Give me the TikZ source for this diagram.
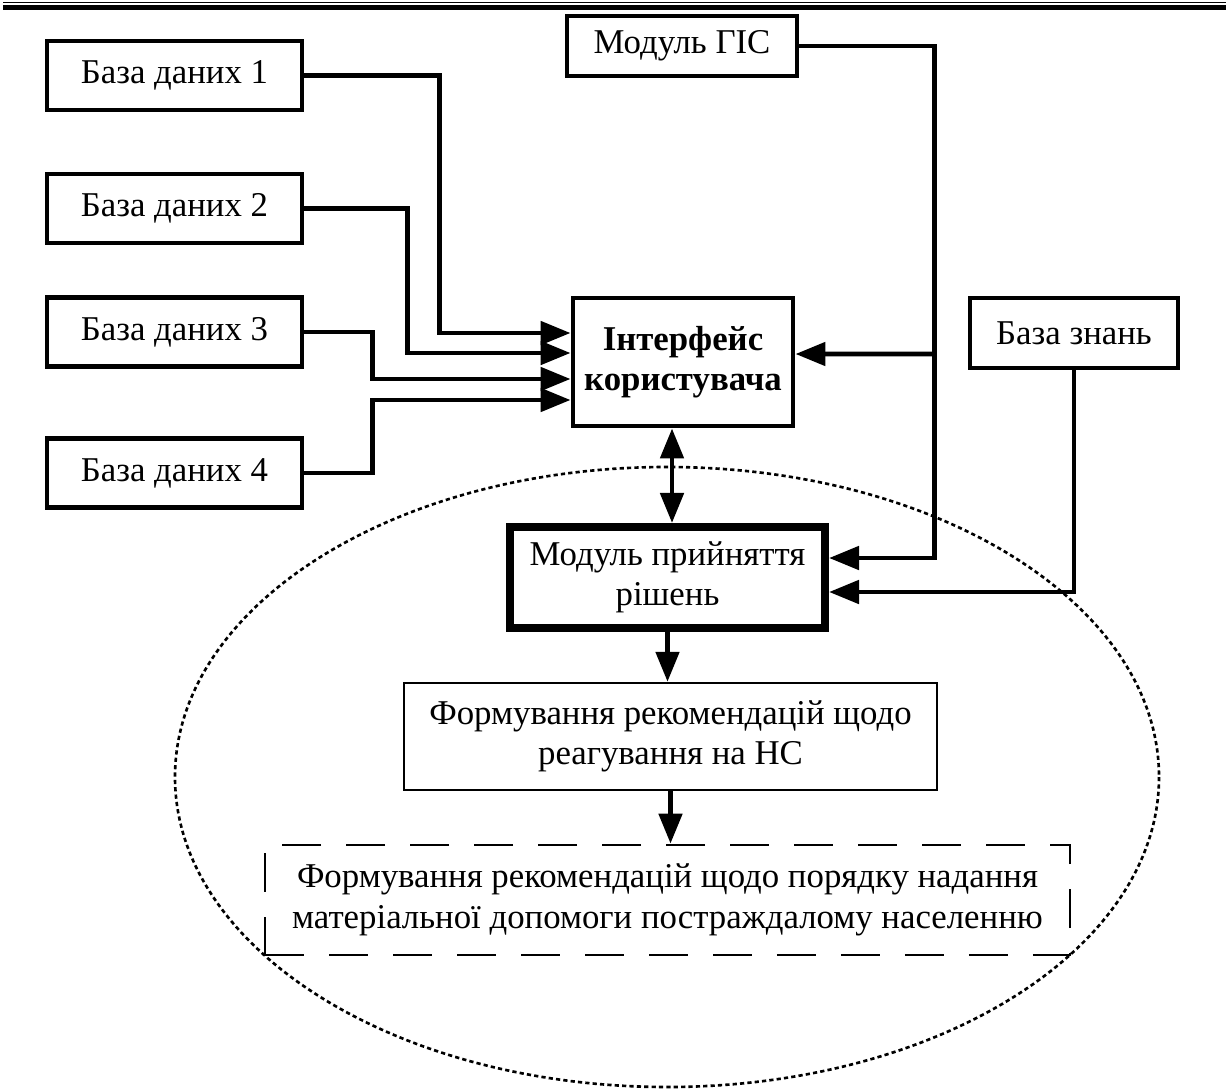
\documentclass[tikz,border=0pt]{standalone}
\usepackage{fontspec}
\setmainfont{Liberation Serif}
\usetikzlibrary{positioning,arrows.meta}
\tikzset{
    box/.style={draw, line width=2.8pt, fill=white, align=center,
        inner sep=0pt, font=\fontsize{19.8}{23}\selectfont},
    dbbox/.style={box, minimum width=5.1cm, minimum height=1.38cm},
    mainbox/.style={box, line width=4.6pt},
    thinbox/.style={box, line width=1.4pt},
    dashbox/.style={box, line width=1.6pt, dash pattern=on 0.78cm off 0.5cm},
    arrow/.style={-{Triangle[length=0.6cm, width=0.46cm]}, line width=2.8pt},
    dblarrow/.style={{Triangle[length=0.6cm, width=0.46cm]}-{Triangle[length=0.6cm, width=0.46cm]}, line width=2.8pt},
}
\begin{document}
\begin{tikzpicture}[x=0.02cm, y=-0.02cm]

\useasboundingbox (0,0) rectangle (1226,1088);

% ===============================
%        header rule and area
% ===============================

\draw[line width=0.8pt] (3,2.5) -- (1226,2.5);
\draw[line width=2.4pt] (3,7.5) -- (1226,7.5);

\draw[line width=1.5pt, dash pattern=on 2.4pt off 1.8pt]
    (667,777) ellipse [x radius=492, y radius=310];

% ===============================
%          data sources
% ===============================

\node[dbbox] (db1) at (174.5,75.5) {База даних 1};
\node[dbbox] (db2) at (174.5,208.5) {База даних 2};
\node[dbbox] (db3) at (174.5,332) {База даних 3};
\node[dbbox] (db4) at (174.5,473) {База даних 4};

\node[box, minimum width=4.6cm, minimum height=1.2cm] (gis) at (682,46)
    {Модуль ГІС};
\node[box, minimum width=4.16cm, minimum height=1.4cm] (kb) at (1074,333)
    {База знань};

% ===============================
%            main chain
% ===============================

\node[box, minimum width=4.4cm, minimum height=2.56cm] (ui) at (683,362)
    {\textbf{Інтерфейс}\\\textbf{користувача}};

\node[mainbox, minimum width=6.3cm, minimum height=2.02cm] (dm) at (667.5,577.5)
    {Модуль прийняття\\рішень};

\node[thinbox, minimum width=10.66cm, minimum height=2.14cm] (rec) at (670.5,736.5)
    {Формування рекомендацій щодо\\реагування на НС};

\node[dashbox, minimum width=16.1cm, minimum height=2.2cm] (aid) at (667.5,900)
    {Формування рекомендацій щодо порядку надання\\матеріальної допомоги постраждалому населенню};

% ===============================
%              arrows
% ===============================

\draw[arrow] (db1.east) -- ++(135,0) |- ([yshift=0.58cm]ui.west);
\draw[arrow] (db2.east) -- ++(103,0) |- ([yshift=0.18cm]ui.west);
\draw[arrow] (db3.east) -- ++(68,0) |- ([yshift=-0.34cm]ui.west);
\draw[arrow] (db4.east) -- ++(68,0) |- ([yshift=-0.76cm]ui.west);

\draw[arrow] (gis.east) -- ++(135,0) coordinate (gisj) |- ([yshift=0.39cm]dm.east);
\draw[arrow] (gisj |- ui.east) ++(0,-8) -- ([yshift=0.16cm]ui.east);

\draw[arrow] (kb.south) |- ([yshift=-0.29cm]dm.east);

\draw[dblarrow] ([xshift=-0.22cm]ui.south) -- ([xshift=-0.22cm]ui.south |- dm.north);
\draw[arrow] (dm.south) -- (dm.south |- rec.north);
\draw[arrow] (rec.south) -- (rec.south |- aid.north);

\end{tikzpicture}
\end{document}
